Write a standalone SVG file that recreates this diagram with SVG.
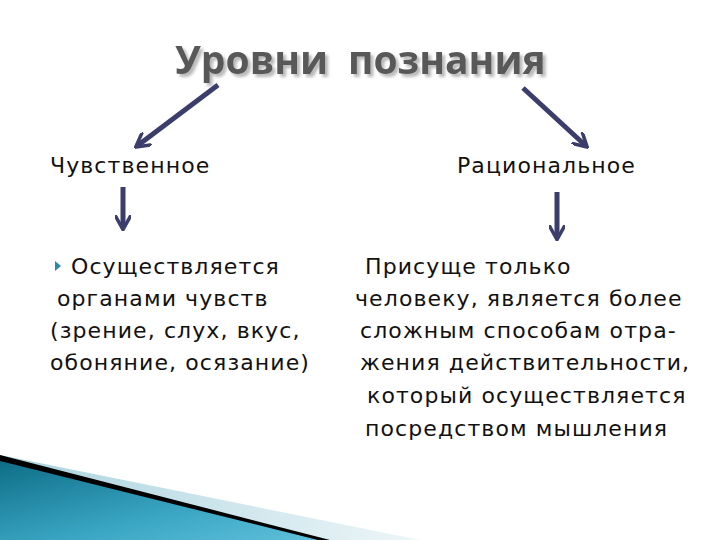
<svg xmlns="http://www.w3.org/2000/svg" width="720" height="540" viewBox="0 0 720 540">
<style>
.t{font-family:"DejaVu Sans","Open Sans",sans-serif;font-size:22px;letter-spacing:1.1px;fill:#111}
.ttl{font-family:"Open Sans","DejaVu Sans",sans-serif;font-size:39px;font-weight:bold;fill:#595959}
.ar{stroke:#3b3d6b;stroke-width:5;fill:none}
</style>
<defs>
<filter id="ds" x="-10%" y="-30%" width="120%" height="160%"><feDropShadow dx="3" dy="3" stdDeviation="1.5" flood-color="#999" flood-opacity="0.7"/></filter>
<marker id="ah" viewBox="0 0 10 10" refX="8" refY="5" markerWidth="3.2" markerHeight="3.2" orient="auto"><path d="M0,0 L9,5 L0,10" fill="none" stroke="#3b3d6b" stroke-width="2.2"/></marker>
<linearGradient id="tg" x1="0" y1="0" x2="1" y2="1"><stop offset="0" stop-color="#0e6e86"/><stop offset="0.6" stop-color="#3aa6c4"/><stop offset="1" stop-color="#5fc0da"/></linearGradient>
<linearGradient id="lg" x1="0" y1="0" x2="1" y2="0"><stop offset="0" stop-color="#a9d3df"/><stop offset="1" stop-color="#eef6f8"/></linearGradient>
</defs>
<rect width="720" height="540" fill="#fff"/>
<g id="decor">
<polygon points="0,455 420,540 0,540" fill="url(#lg)"/>
<polygon points="0,455 330,540 0,540" fill="#000"/>
<polygon points="0,461 318,540 0,540" fill="url(#tg)"/>
</g>
<g id="title" filter="url(#ds)">
<text class="ttl" x="175" y="74">Уровни</text>
<text class="ttl" x="348" y="74">познания</text>
</g>
<g id="connectors">
<line class="ar" x1="218" y1="85" x2="137" y2="146" marker-end="url(#ah)"/>
<line class="ar" x1="523" y1="88" x2="586" y2="146" marker-end="url(#ah)"/>
<line class="ar" x1="123" y1="187" x2="123" y2="228" marker-end="url(#ah)"/>
<line class="ar" x1="557" y1="192" x2="557" y2="238" marker-end="url(#ah)"/>
</g>
<g id="sensory">
<text class="t" x="50" y="173">Чувственное</text>
</g>
<g id="rational">
<text class="t" x="457" y="173">Рациональное</text>
</g>
<g id="sensory-desc">
<polygon points="55,261 61,266 55,271" fill="#2a8aa6"/>
<text class="t" x="71" y="274">Осуществляется</text>
<text class="t" x="57" y="306">органами чувств</text>
<text class="t" x="50" y="338">(зрение, слух, вкус,</text>
<text class="t" x="50" y="370">обоняние, осязание)</text>
</g>
<g id="rational-desc">
<text class="t" x="365" y="274">Присуще только</text>
<text class="t" x="355" y="306">человеку, является более</text>
<text class="t" x="360" y="338">сложным способам отра-</text>
<text class="t" x="360" y="370">жения действительности,</text>
<text class="t" x="367" y="403">который осуществляется</text>
<text class="t" x="365" y="436">посредством мышления</text>
</g>
</svg>
